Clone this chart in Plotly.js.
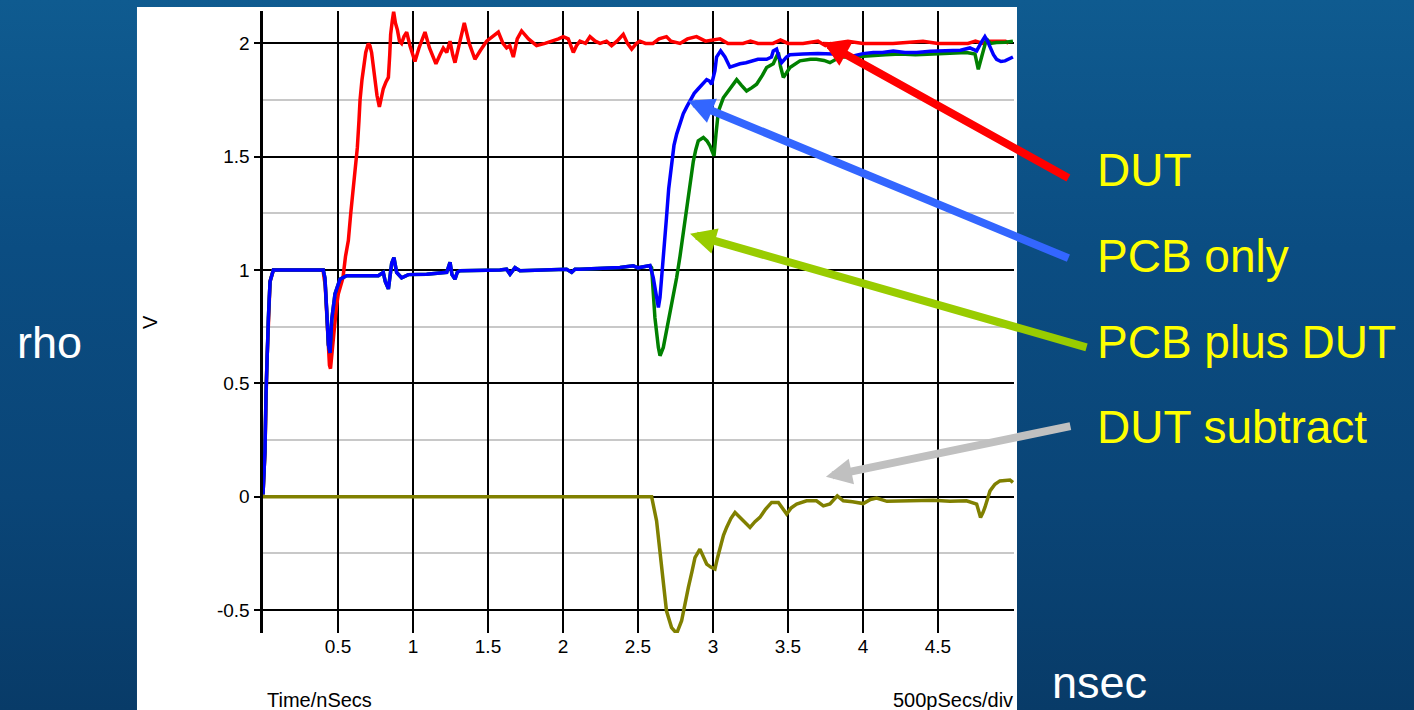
<!DOCTYPE html>
<html>
<head>
<meta charset="utf-8">
<script src="https://cdn.plot.ly/plotly-3.0.1.min.js"></script>
<style>
html, body { margin:0; padding:0; width:1414px; height:710px; overflow:hidden; }
body { background: linear-gradient(180deg, #0f5b90 0%, #0b4d82 35%, #0a4577 70%, #083b68 100%); }
#chart { width:1414px; height:710px; }
</style>
</head>
<body>
<div id="chart"></div>
<script>
// ---- Data ----
const dutX = [0,0.013,0.025,0.036,0.047,0.069,0.40,0.415,0.43,0.443,0.45,0.458,0.469,0.48,0.49,0.502,0.52,0.533,0.55,0.569,0.585,0.602,0.615,0.629,0.64,0.647,0.66,0.669,0.685,0.702,0.713,0.724,0.735,0.747,0.76,0.776,0.79,0.802,0.82,0.836,0.845,0.851,0.862,0.871,0.883,0.896,0.91,0.924,0.94,0.958,0.98,1.013,1.04,1.08,1.11,1.153,1.18,1.202,1.225,1.247,1.265,1.28,1.31,1.342,1.375,1.413,1.45,1.491,1.53,1.569,1.6,1.624,1.645,1.669,1.695,1.724,1.77,1.824,1.88,1.936,1.97,2.002,2.035,2.069,2.09,2.113,2.15,2.18,2.215,2.247,2.29,2.324,2.36,2.402,2.43,2.458,2.49,2.513,2.55,2.6,2.64,2.69,2.72,2.78,2.83,2.89,2.95,3.047,3.1,3.2,3.25,3.3,3.4,3.45,3.5,3.6,3.7,3.75,3.8,3.9,4.0,4.2,4.4,4.5,4.7,4.75,4.8,4.85,4.95,4.97];
const dutY = [0.01,0.2,0.57,0.79,0.95,1.0,1.0,0.93,0.72,0.58,0.565,0.62,0.72,0.80,0.84,0.895,0.93,0.966,1.06,1.13,1.25,1.36,1.45,1.54,1.66,1.75,1.84,1.89,1.96,2.0,1.99,1.96,1.9,1.85,1.77,1.72,1.76,1.80,1.83,1.85,1.95,2.04,2.10,2.14,2.09,2.06,2.01,2.0,2.03,2.05,1.99,1.92,1.98,2.05,1.98,1.91,1.95,1.98,1.96,2.01,1.95,1.915,2.0,2.09,2.0,1.93,1.97,2.01,2.03,2.05,2.0,1.98,1.99,1.94,2.02,2.055,2.02,1.99,2.0,2.01,2.02,2.03,2.02,1.96,1.99,2.01,2.0,2.03,2.01,2.0,2.01,1.99,2.01,2.04,2.0,1.975,2.0,2.01,2.0,2.0,2.02,2.03,2.01,2.0,2.02,2.03,2.01,2.02,2.0,2.0,2.01,2.0,2.0,2.015,2.0,2.0,2.01,1.99,2.0,2.01,2.0,2.0,2.01,2.0,2.0,2.01,2.0,2.01,2.01,2.0];

const pcbX = [0,0.005,0.013,0.02,0.025,0.036,0.047,0.06,0.069,0.402,0.413,0.424,0.436,0.447,0.458,0.48,0.513,0.558,0.769,0.802,0.815,0.836,0.848,0.858,0.873,0.891,0.924,0.969,1.091,1.202,1.225,1.247,1.26,1.28,1.295,1.313,1.424,1.58,1.624,1.647,1.68,1.713,2.024,2.058,2.08,2.113,2.38,2.42,2.469,2.5,2.569,2.58,2.602,2.624,2.636,2.647,2.669,2.69,2.705,2.724,2.74,2.758,2.78,2.802,2.825,2.847,2.875,2.902,2.93,2.958,2.975,2.991,3.013,3.024,3.051,3.08,3.113,3.15,3.18,3.22,3.269,3.3,3.358,3.39,3.402,3.424,3.44,3.458,3.49,3.513,3.6,3.7,3.802,3.87,3.936,4.0,4.069,4.13,4.202,4.28,4.358,4.45,4.58,4.65,4.713,4.74,4.758,4.785,4.813,4.83,4.847,4.87,4.891,4.92,4.947,4.975,5.0];
const pcbY = [0.01,0.1,0.2,0.45,0.57,0.79,0.95,0.99,1.0,1.0,0.965,0.83,0.67,0.635,0.78,0.895,0.96,0.975,0.975,0.99,0.95,0.917,0.98,1.03,1.055,0.99,0.966,0.98,0.982,0.99,0.99,1.034,0.98,0.96,0.99,0.997,0.997,1.0,1.004,0.982,1.011,0.997,1.004,0.99,1.004,1.004,1.011,1.015,1.019,1.01,1.019,1.02,0.967,0.865,0.835,0.88,1.04,1.23,1.36,1.48,1.55,1.6,1.65,1.69,1.72,1.75,1.78,1.80,1.82,1.84,1.835,1.82,1.88,1.94,1.967,1.94,1.895,1.905,1.91,1.915,1.923,1.93,1.93,1.94,1.967,1.975,1.94,1.915,1.94,1.95,1.953,1.955,1.953,1.95,1.945,1.955,1.96,1.96,1.967,1.96,1.96,1.965,1.967,1.97,1.98,1.97,1.967,2.0,2.03,2.01,1.98,1.95,1.93,1.92,1.923,1.93,1.94];

// PCB plus DUT: identical to PCB only up to x = 2.58, then its own readings
const pcbDutSplitX = 2.58;
const pcbDutTailX = [2.591,2.602,2.613,2.636,2.647,2.669,2.69,2.713,2.735,2.758,2.78,2.802,2.82,2.836,2.852,2.869,2.885,2.902,2.936,2.96,2.98,3.007,3.02,3.036,3.069,3.113,3.158,3.19,3.224,3.26,3.291,3.33,3.358,3.402,3.436,3.45,3.469,3.49,3.513,3.58,3.65,3.69,3.74,3.78,3.847,3.93,4.024,4.15,4.247,4.35,4.469,4.6,4.69,4.747,4.769,4.791,4.824,4.85,4.891,4.95,5.0];
const pcbDutTailY = [1.011,0.909,0.79,0.659,0.622,0.659,0.73,0.806,0.89,0.967,1.06,1.159,1.25,1.335,1.41,1.48,1.53,1.57,1.585,1.57,1.548,1.504,1.6,1.70,1.76,1.80,1.84,1.815,1.79,1.805,1.82,1.86,1.894,1.91,1.96,1.9,1.85,1.87,1.894,1.923,1.93,1.93,1.925,1.915,1.94,1.94,1.945,1.95,1.953,1.95,1.953,1.955,1.96,1.953,1.886,1.94,2.02,2.0,2.004,2.005,2.01];

const subX = [0,2.591,2.624,2.64,2.658,2.675,2.69,2.724,2.758,2.791,2.81,2.836,2.86,2.88,2.913,2.935,2.958,2.985,3.013,3.03,3.047,3.07,3.091,3.12,3.147,3.191,3.247,3.28,3.313,3.35,3.391,3.436,3.491,3.52,3.558,3.624,3.69,3.736,3.78,3.829,3.869,3.93,4.002,4.05,4.091,4.16,4.247,4.35,4.469,4.58,4.69,4.758,4.784,4.8,4.813,4.847,4.88,4.913,4.98,5.0];
const subY = [0,0,-0.106,-0.2,-0.326,-0.42,-0.503,-0.577,-0.603,-0.547,-0.48,-0.4,-0.33,-0.268,-0.231,-0.26,-0.297,-0.31,-0.319,-0.27,-0.224,-0.17,-0.135,-0.095,-0.069,-0.098,-0.135,-0.11,-0.091,-0.055,-0.025,-0.025,-0.076,-0.05,-0.032,-0.018,-0.018,-0.04,-0.032,0.004,-0.018,-0.022,-0.03,-0.012,-0.006,-0.02,-0.018,-0.015,-0.015,-0.02,-0.018,-0.032,-0.091,-0.07,-0.047,0.026,0.055,0.07,0.074,0.063];

const xTickVals = [0.5,1,1.5,2,2.5,3,3.5,4,4.5];
const xTickText = ['0.5','1','1.5','2','2.5','3','3.5','4','4.5'];
const yTickVals = [-0.5,0,0.5,1,1.5,2];
const yTickText = ['-0.5','0','0.5','1','1.5','2'];
const yMinorVals = [-0.25,0.25,0.75,1.25,1.75];

const labels = ['DUT','PCB only','PCB plus DUT','DUT subtract'];
// arrow tips (data coords) that each label points at
const arrowTipX = [3.733, 2.833, 2.847, 3.753];
const arrowTipY = [2.007, 1.747, 1.16, 0.088];

const FONT = 'Liberation Sans, Arial, Helvetica, sans-serif';

const headN = pcbX.filter(v => v <= pcbDutSplitX).length;
const pcbDutX = pcbX.slice(0, headN).concat(pcbDutTailX);
const pcbDutY = pcbY.slice(0, headN).concat(pcbDutTailY);

const LW = 3.5;
const traces = [
  {x: subX, y: subY, mode:'lines', line:{color:'#808000', width:LW}, name:'DUT subtract'},
  {x: dutX, y: dutY, mode:'lines', line:{color:'#ff0000', width:LW}, name:'DUT'},
  {x: pcbDutX, y: pcbDutY, mode:'lines', line:{color:'#008000', width:LW}, name:'PCB plus DUT'},
  {x: pcbX, y: pcbY, mode:'lines', line:{color:'#0000ff', width:LW}, name:'PCB only'}
];

const arrowColors = ['#ff0000','#3366ff','#99cc00','#c0c0c0'];
const arrowAX = [247, 382, 398, 246];
const arrowAY = [137, 158, 114, -51];
const labelY = [0.7444, 0.6061, 0.4678, 0.3312];

const annotations = [];
for (let i = 0; i < labels.length; i++) {
  annotations.push({
    x: arrowTipX[i], y: arrowTipY[i], xref:'x', yref:'y',
    ax: arrowAX[i], ay: arrowAY[i], axref:'pixel', ayref:'pixel',
    text:'', showarrow:true, arrowhead:2, arrowsize:0.65, arrowwidth:8,
    arrowcolor: arrowColors[i], standoff:0
  });
  annotations.push({
    x: 1.1079, y: labelY[i], xref:'paper', yref:'paper',
    xanchor:'left', yanchor:'middle', showarrow:false,
    text: labels[i], font:{family:FONT, size:46, color:'#ffff00'}
  });
}
annotations.push({x:-0.330, y:0.4678, xref:'paper', yref:'paper', xanchor:'left', yanchor:'middle', showarrow:false,
  text:'rho', font:{family:FONT, size:45, color:'#ffffff'}});
annotations.push({x:1.048, y:-0.1238, xref:'paper', yref:'paper', xanchor:'left', yanchor:'bottom', showarrow:false,
  text:'nsec', font:{family:FONT, size:45, color:'#ffffff'}});
annotations.push({x:-0.1505, y:0.5, xref:'paper', yref:'paper', xanchor:'center', yanchor:'middle', showarrow:false,
  text:'V', textangle:-90, font:{family:FONT, size:20, color:'#000000'}});
annotations.push({x:0.002, y:-0.1077, xref:'paper', yref:'paper', xanchor:'left', yanchor:'middle', showarrow:false,
  text:'Time/nSecs', font:{family:FONT, size:20, color:'#000000'}});
annotations.push({x:1.0013, y:-0.1077, xref:'paper', yref:'paper', xanchor:'right', yanchor:'middle', showarrow:false,
  text:'500pSecs/div', font:{family:FONT, size:20, color:'#000000'}});

const layout = {
  width:1414, height:710,
  margin:{l:263, r:400, t:11, b:77, pad:0},
  paper_bgcolor:'rgba(0,0,0,0)', plot_bgcolor:'#ffffff',
  showlegend:false,
  font:{family:FONT, size:19, color:'#000000'},
  xaxis:{range:[0,5.007], tickmode:'array', tickvals:xTickVals, ticktext:xTickText,
    showgrid:true, gridcolor:'#000000', gridwidth:2, zeroline:false, showline:false,
    ticks:'', tickfont:{family:FONT, size:19, color:'#000000'}, fixedrange:true},
  yaxis:{range:[-0.601,2.143], tickmode:'array', tickvals:yTickVals, ticktext:yTickText,
    showgrid:true, gridcolor:'#000000', gridwidth:2, zeroline:false,
    showline:true, linecolor:'#000000', linewidth:3.5,
    ticks:'outside', ticklen:6, tickwidth:2, tickcolor:'#000000',
    tickfont:{family:FONT, size:19, color:'#000000'},
    minor:{tickmode:'array', tickvals:yMinorVals, showgrid:true, gridcolor:'#c8c8c8', gridwidth:2, ticks:''},
    fixedrange:true},
  shapes:[{type:'rect', xref:'paper', yref:'paper', x0:-0.1678, x1:1.004, y0:-0.13, y1:1.0064,
    fillcolor:'#ffffff', line:{width:0}, layer:'below'}],
  annotations: annotations
};

Plotly.newPlot('chart', traces, layout, {displayModeBar:false, staticPlot:true});
</script>
</body>
</html>
